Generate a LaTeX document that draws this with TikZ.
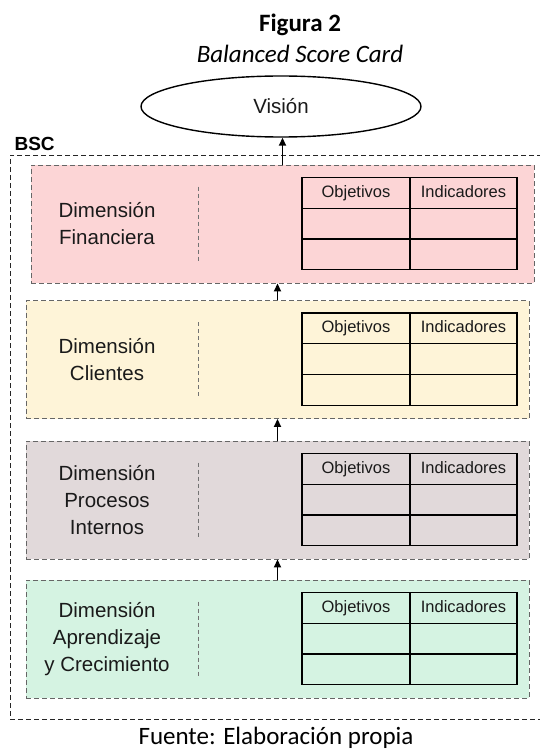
\documentclass[tikz,border=0pt]{standalone}
\usepackage{fontspec}
\setmainfont{Carlito}
\newfontfamily\arial{Liberation Sans}
\usetikzlibrary{positioning,shapes.geometric,arrows.meta}
\definecolor{rosa}{HTML}{FCD5D6}
\definecolor{amarillo}{HTML}{FEF4D8}
\definecolor{gris}{HTML}{E1D9DA}
\definecolor{verde}{HTML}{D5F3E2}
\definecolor{texto}{HTML}{1A1A1A}

\begin{document}
\begin{tikzpicture}[x=1pt,y=-1pt,
	dim/.style={rectangle, draw=black!60, line width=0.9pt, dash pattern=on 5pt off 3pt, minimum width=503pt, minimum height=118pt, inner sep=0pt},
	dimtxt/.style={align=center, text=texto, font=\arial\fontsize{20.5}{27}\selectfont},
	sep/.style={draw=black!55, line width=0.8pt, dash pattern=on 4pt off 3pt},
	celda/.style={rectangle, draw, line width=1.2pt, minimum width=108pt, minimum height=30.7pt, inner sep=0pt, outer sep=0pt, text height=12pt, text depth=3.5pt, text=texto, font=\arial\fontsize{16.5}{18}\selectfont},
	marco/.style={rectangle, draw=black!85, line width=0.9pt, dash pattern=on 5pt off 3pt, minimum width=532pt, minimum height=564pt},
	flecha/.style={-{Triangle[length=8pt,width=7pt]}, line width=1.7pt}]
	\useasboundingbox[fill=white] (0,0) rectangle (540,749);
	\coordinate (colx) at (107,0);
	\coordinate (sepx) at (198,0);
	\coordinate (tabx) at (302,0);
	
	\node[anchor=base, font=\bfseries\fontsize{25}{30}\selectfont] (fig) at (300,32) {Figura 2};
	\node[anchor=base, font=\itshape\fontsize{25}{30}\selectfont] (titulo) at (300,63) {Balanced Score Card};
	\node[ellipse, draw, line width=1.4pt, minimum width=280pt, minimum height=61pt, inner sep=0pt, text=texto, font=\arial\fontsize{20.5}{24}\selectfont] (vision) at (281,106.5) {Visión};
	\node[anchor=base west, font=\arial\bfseries\fontsize{19}{22}\selectfont] (bsc) at (11,150) {BSC};
	\node[marco] (bsc_marco) at (276,437) {};
	
	\foreach \d/\x/\y/\col/\txt in {1/282.5/224/rosa/{Dimensión\\Financiera}, 2/277.5/359.5/amarillo/{Dimensión\\Clientes}, 3/277.5/500/gris/{Dimensión\\Procesos\\Internos}, 4/277.5/639/verde/{Dimensión\\Aprendizaje\\y Crecimiento}}{
		\node[dim, fill=\col] (d_\d) at (\x,\y) {};
		\node[dimtxt] (t_\d) at (d_\d.center -| colx) {\txt};
		\draw[sep] ([yshift=-22pt]d_\d.north -| sepx) -- ([yshift=20pt]d_\d.south -| sepx);
		\node[celda, anchor=north west] (obj_\d) at ([yshift=-13pt]d_\d.north -| tabx) {Objetivos};
		\node[celda, minimum width=107pt] (ind_\d) [right=0pt of obj_\d] {Indicadores};
		\node[celda] (o1_\d) [below=0pt of obj_\d] {};
		\node[celda, minimum width=107pt] (i1_\d) [below=0pt of ind_\d] {};
		\node[celda] (o2_\d) [below=0pt of o1_\d] {};
		\node[celda, minimum width=107pt] (i2_\d) [below=0pt of i1_\d] {};
	}
	
	\draw[flecha] (d_1.north) -- (d_1.north |- vision.south);
	\draw[flecha] (d_2.north) -- (d_2.north |- d_1.south);
	\draw[flecha] (d_3.north) -- (d_3.north |- d_2.south);
	\draw[flecha] (d_4.north) -- (d_4.north |- d_3.south);
	
	\node[anchor=base, font=\fontsize{25}{30}\selectfont] (fuente) at (276,744) {Fuente: Elaboración propia};
\end{tikzpicture}
\end{document}
